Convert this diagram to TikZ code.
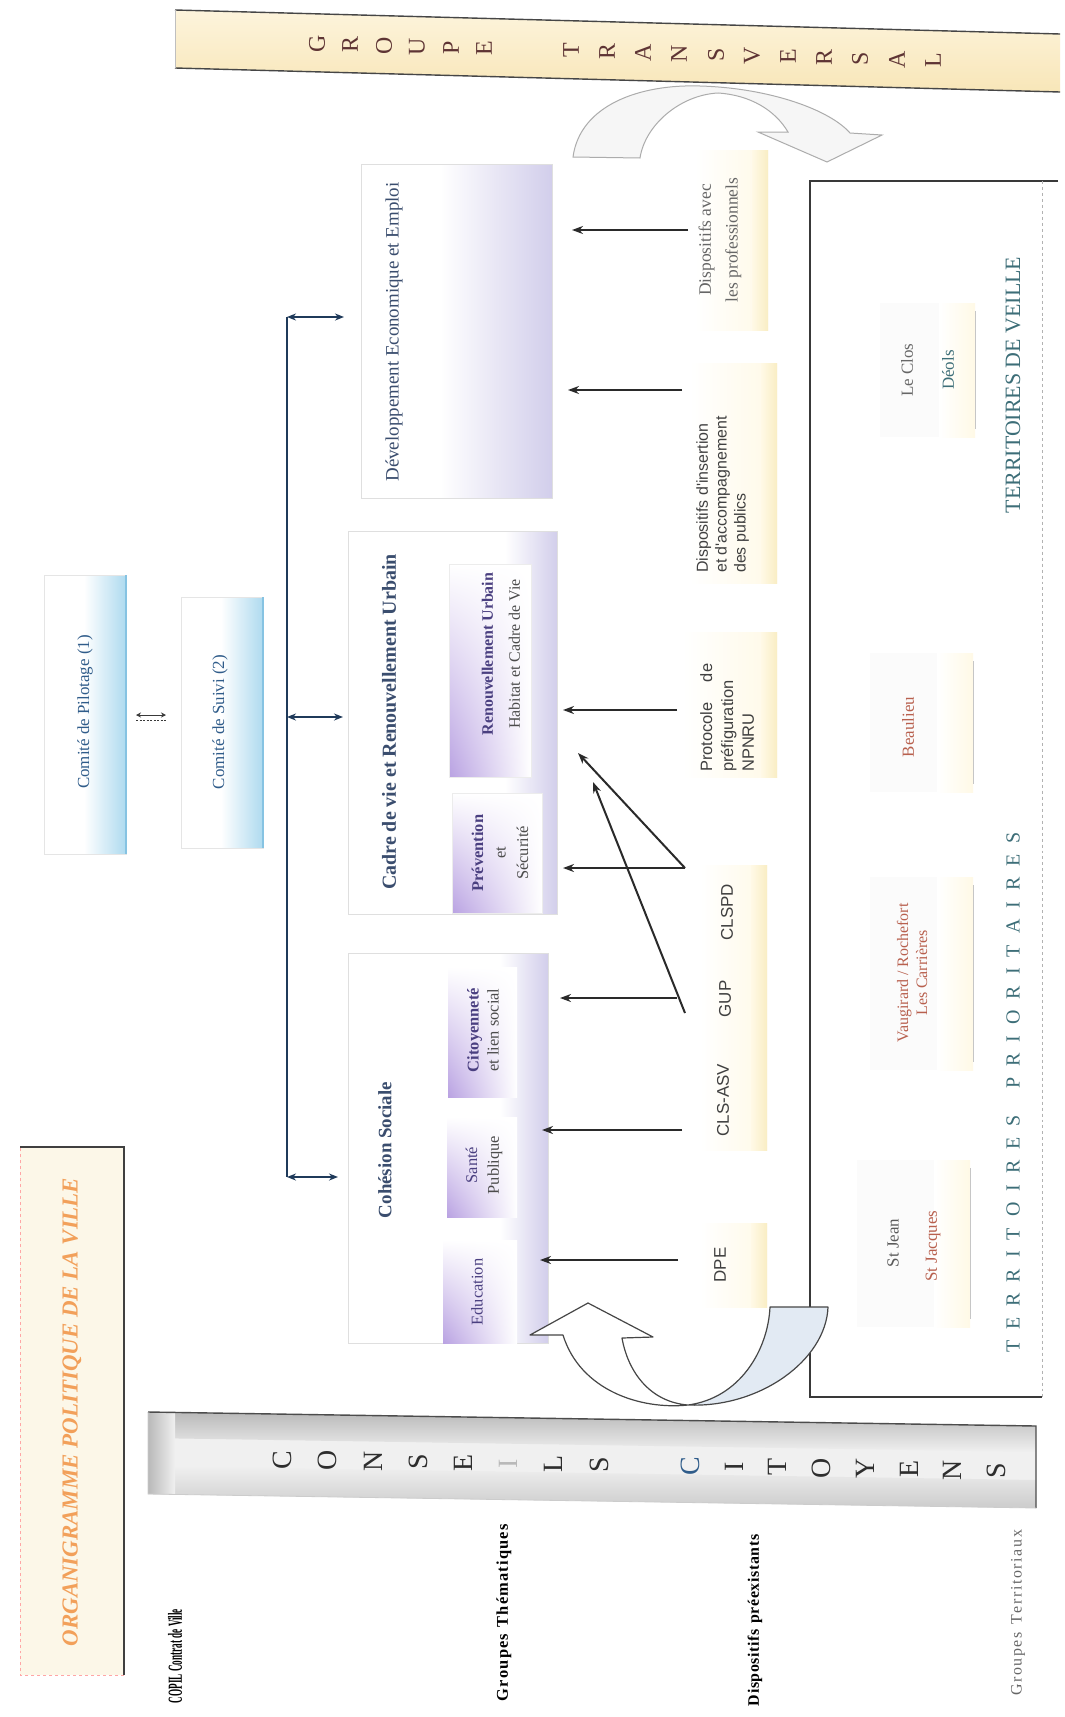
\documentclass[tikz,border=0pt]{standalone}
\usepackage{fontspec}
\usepackage{graphicx}
\setmainfont{Liberation Serif}
\newfontfamily\sansf{Liberation Sans}
\usetikzlibrary{arrows.meta,shadings}
\definecolor{navy}{HTML}{1F3A5A}
\definecolor{titleor}{HTML}{F2A05A}
\definecolor{cream}{HTML}{FCF7E8}
\definecolor{dcream}{HTML}{FFF9E6}
\definecolor{dstrip}{HTML}{F9EDC4}
\definecolor{lav}{HTML}{D2CEEB}
\definecolor{purp}{HTML}{B9A2E2}
\definecolor{purptext}{HTML}{4A3F80}
\definecolor{slate}{HTML}{3A4D6E}
\definecolor{tealc}{HTML}{3D6E78}
\definecolor{blu}{HTML}{AEDAEF}
\definecolor{bluedge}{HTML}{86C3E2}
\definecolor{bluetext}{HTML}{2F5C8A}
\definecolor{redt}{HTML}{B8604E}
\definecolor{gbar}{HTML}{F8E6B8}
\definecolor{gbarl}{HTML}{FDF4DC}
\definecolor{arr}{HTML}{2A2A2A}
\definecolor{ushade}{HTML}{E2EAF3}
\definecolor{gletc}{HTML}{5E3434}
\newcommand\fsz[2]{\fontsize{#1}{#2}\selectfont}
\newlength\spk
\newcommand\spc[2]{\setlength\spk{#1}\spcaux#2\relax}
\def\spcaux#1{\ifx#1\relax\else#1\kern\spk\expandafter\spcaux\fi}
\begin{document}
\begin{tikzpicture}[x=1bp,y=-1bp,
  lbl/.style={rotate=90,inner sep=0pt,align=center},
  darr/.style={draw=arr,line width=2.4bp,-{Stealth[length=11bp,width=8bp]}},
  dbl/.style={draw=navy,line width=1.8bp,{Stealth[length=9bp,width=7bp]}-{Stealth[length=9bp,width=7bp]}},
  pane/.style={draw=gray!25,line width=0.8bp},
  cletter/.style={rotate=90,inner sep=0pt,font=\fsz{28}{30}},
  gletter/.style={rotate=90,inner sep=0pt,font=\fsz{24}{26},text=gletc},
  disp/.style={lbl,font=\sansf\fsz{17}{20},text=black!75},
  terr/.style={lbl,font=\fsz{17}{19}},
  sub/.style={lbl,font=\fsz{16.5}{21},text=black!70},
  purpshade/.style={upper left=white,upper right=white,lower left=purp,lower right=white},
]
\useasboundingbox (0,0) rectangle (1064,1717);
\fill[white] (0,0) rectangle (1064,1717);

% ---------- Title box
\fill[cream] (20,1147) rectangle (124,1675);
\draw[red!35,dashed,line width=0.6bp] (124,1675) -- (20,1675) -- (20,1147);
\draw[gray!50!black,line width=1.6bp] (20,1147) -- (124,1147) -- (124,1675);
\node[lbl,text=titleor,font=\fsz{23}{26}\bfseries\itshape] (title) at (72,1412) {ORGANIGRAMME POLITIQUE DE LA VILLE};

% ---------- Row labels
\node[lbl,font=\fsz{20}{22}\bfseries] (copil) at (175,1656) {\scalebox{0.46}[1]{COPIL Contrat de Ville}};
\node[lbl,font=\fsz{16.5}{18}\bfseries] (gth) at (504,1612) {\spc{1.2bp}{Groupes}\hspace{5bp}\spc{1.2bp}{Thématiques}};
\node[lbl,font=\fsz{16}{18}\bfseries] (dpx) at (755,1620) {\spc{0.6bp}{Dispositifs}\hspace{5bp}\spc{0.6bp}{préexistants}};
\node[lbl,font=\fsz{16}{18},text=black!60] (gte) at (1018,1612) {\spc{1.6bp}{Groupes}\hspace{6bp}\spc{1.6bp}{Territoriaux}};

% ---------- Conseils citoyens bar
\fill[gray!12] (148,1412) -- (1036,1426) -- (1036,1508) -- (148,1494) -- cycle;
\shade[top color=gray!55,bottom color=gray!12] (148,1412) -- (1036,1426) -- (1036,1452) -- (148,1438) -- cycle;
\shade[top color=gray!12,bottom color=gray!40] (148,1466) -- (1036,1480) -- (1036,1508) -- (148,1494) -- cycle;
\shade[left color=gray!55,right color=gray!12] (148,1412) -- (175,1412.5) -- (175,1494.5) -- (148,1494) -- cycle;
\draw[gray!60!black,line width=1.4bp] (148,1412) -- (1036,1426) -- (1036,1508);
\draw[gray!40,line width=0.8bp] (148,1412) -- (148,1494) -- (1036,1508);
\foreach \l/\x in {C/282,O/327,N/373,S/418,E/463,L/553,S/599,I/734,T/777,O/821,Y/865,E/909,N/952,S/996}
  \node[cletter,text=black!82] (cs\x) at (\x,{1458+0.015*(\x-148)}) {\l};
\node[cletter,text=gray!55] (cs508) at (508,{1458+0.015*(508-148)}) {I};
\node[cletter,text=bluetext] (cs690) at (690,{1458+0.015*(690-148)}) {C};

% ---------- Groupe transversal bar
\shade[top color=gbarl,bottom color=gbar] (175,10) -- (1060,34) -- (1060,92) -- (175,68) -- cycle;
\draw[gray!55!black,line width=1.4bp] (175,10) -- (1060,34);
\draw[gray!55!black,line width=1.4bp] (175,68) -- (1060,92);
\draw[gray!50,line width=0.8bp] (175,10) -- (175,68);
\foreach \l/\x in {G/317,R/350,O/384,U/417,P/451,E/484,T/571,R/607,A/643,N/679,S/716,V/752,E/788,R/824,S/860,A/897,L/933}
  \node[gletter] (g\x) at (\x,{40+0.027*(\x-175)}) {\l};

% ---------- Comites
\fill[white] (44,575) rectangle (126,854);
\shade[left color=white,right color=blu] (84,575) rectangle (126,854);
\draw[gray!20] (44,575) rectangle (126,854);
\draw[bluedge,line width=1.6bp] (126,575) -- (126,854);
\node[lbl,text=bluetext,font=\fsz{17}{20}] (pil) at (85,712) {Comité de Pilotage (1)};
\fill[white] (181,597) rectangle (263,848);
\shade[left color=white,right color=blu] (221,597) rectangle (263,848);
\draw[gray!20] (181,597) rectangle (263,848);
\draw[bluedge,line width=1.6bp] (263,597) -- (263,848);
\node[lbl,text=bluetext,font=\fsz{17}{20}] (sui) at (220,722) {Comité de Suivi (2)};
\coordinate (pilR) at (136,715);
\coordinate (suiL) at (166,715);
\coordinate (pilR2) at (136,720);
\coordinate (suiL2) at (166,720);
\draw[gray!45!black,line width=0.9bp,{Stealth[length=5bp,width=5bp]}-{Stealth[length=5bp,width=5bp]}] (pilR) -- (suiL);
\draw[gray!45!black,line width=0.9bp,dash pattern=on 2bp off 1.5bp] (pilR2) -- (suiL2);

% ---------- Bracket
\coordinate (bt) at (287,317);
\coordinate (bm) at (287,717);
\coordinate (bb) at (287,1177);
\coordinate (devL) at (344,317);
\coordinate (cadL) at (343,717);
\coordinate (cohL) at (338,1177);
\draw[navy,line width=1.6bp] (bt) -- (bb);
\draw[dbl] (bt) -- (devL);
\draw[dbl] (bm) -- (cadL);
\draw[dbl] (bb) -- (cohL);

% ---------- Theme boxes
% Developpement
\fill[white] (361,164) rectangle (552,498);
\shade[left color=white,right color=lav] (440,164) rectangle (552,498);
\draw[pane] (361,164) rectangle (552,498);
\node[lbl,text=slate,font=\fsz{19}{22}] (dev) at (394,332) {Développement Economique et Emploi};
% Cadre de vie
\fill[white] (348,531) rectangle (557,914);
\shade[left color=white,right color=lav] (505,531) rectangle (557,914);
\draw[pane] (348,531) rectangle (557,914);
\node[lbl,text=slate,font=\fsz{20}{22}\bfseries] (cad) at (389,722) {Cadre de vie et Renouvellement Urbain};
\shade[purpshade] (449,564) rectangle (531,777);
\draw[gray!15] (449,564) rectangle (531,777);
\node[sub,font=\fsz{16}{27}] (ru) at (501,654) {\textcolor{purptext}{\bfseries Renouvellement Urbain}\\Habitat et Cadre de Vie};
\shade[purpshade] (452,793) rectangle (542,913);
\draw[gray!15] (452,793) rectangle (542,913);
\node[sub,font=\fsz{16.5}{22.5}] (prev) at (500,853) {\textcolor{purptext}{\bfseries Prévention}\\et\\Sécurité};
% Cohesion sociale
\fill[white] (348,953) rectangle (548,1343);
\shade[left color=white,right color=lav] (500,953) rectangle (548,1343);
\draw[pane] (348,953) rectangle (548,1343);
\node[lbl,text=slate,font=\fsz{19}{22}\bfseries] (coh) at (385,1150) {Cohésion Sociale};
\shade[purpshade] (448,967) rectangle (517,1097);
\node[sub,font=\fsz{16.5}{20}] (cit) at (483,1030) {\textcolor{purptext}{\bfseries Citoyenneté}\\et lien social};
\shade[purpshade] (447,1117) rectangle (517,1217);
\node[sub,font=\fsz{16.5}{22}] (san) at (484,1165) {\textcolor{purptext}{Santé}\\Publique};
\shade[purpshade] (443,1240) rectangle (517,1343);
\node[sub,text=purptext] (edu) at (477,1292) {Education};

% ---------- Dispositifs boxes
\foreach \xa/\ya/\xb/\yb in {695/150/768/330, 690/363/777/583, 683/632/777/777, 700/865/767/1150, 700/1223/767/1307}{
  \shade[left color=white,right color=dcream] (\xa,\ya) rectangle (\xb,\yb);
  \shade[left color=dcream,right color=dstrip] ({\xb-16},\ya) rectangle (\xb,\yb);
}
\node[disp,font=\fsz{17.5}{27},text=black!60] (dpro) at (720,240) {Dispositifs avec\\les professionnels};
\node[disp,anchor=north west,align=left,font=\sansf\fsz{16}{19}] (dins) at (696,573) {Dispositifs d'insertion\\et d'accompagnement\\des publics};
\node[disp,anchor=north west,align=left,text width=108bp,font=\sansf\fsz{16.5}{21}] (dprot) at (700,772) {Protocole\hfill de\\préfiguration\\NPNRU};
\node[disp] (clspd) at (727,912) {CLSPD};
\node[disp] (gup) at (725,999) {GUP};
\node[disp] (clsasv) at (723,1100) {CLS-ASV};
\node[disp] (dpe) at (720,1265) {DPE};

% ---------- Arrows from dispositifs
\coordinate (s1) at (688,230);  \coordinate (e1) at (572,230);
\coordinate (s2) at (682,390);  \coordinate (e2) at (568,390);
\coordinate (s3) at (677,710);  \coordinate (e3) at (563,710);
\coordinate (tv) at (685,868);  \coordinate (e4) at (563,868);
\coordinate (e5) at (578,753);
\coordinate (s6) at (685,1013); \coordinate (e6) at (593,782);
\coordinate (s7) at (677,998);  \coordinate (e7) at (560,998);
\coordinate (s8) at (682,1130); \coordinate (e8) at (542,1130);
\coordinate (s9) at (678,1260); \coordinate (e9) at (540,1260);
\draw[darr] (s1) -- (e1);
\draw[darr] (s2) -- (e2);
\draw[darr] (s3) -- (e3);
\draw[darr] (tv) -- (e4);
\draw[darr,line width=2bp] (tv) -- (e5);
\draw[darr,line width=2bp] (s6) -- (e6);
\draw[darr] (s7) -- (e7);
\draw[darr] (s8) -- (e8);
\draw[darr] (s9) -- (e9);

% ---------- Territoires
\fill[white] (810,181) rectangle (1042,1397);
\draw[gray!45!black,line width=1.5bp] (1058,181) -- (810,181) -- (810,1397) -- (1042,1397);
\draw[gray!60,dashed,line width=0.8bp] (1042,181) -- (1042,1397);
\foreach \xa/\ya/\xb/\yb in {880/303/975/437, 870/653/973/792, 870/877/973/1070, 857/1160/970/1327}{
  \fill[gray!3] (\xa,\ya) rectangle (\xb,\yb);
  \shade[left color=white,right color=dcream] ({\xb-36},\ya) rectangle (\xb,\yb);
  \draw[gray!45,line width=1bp] (\xb,{\ya+8}) -- (\xb,{\yb-8});
}
\node[terr,text=black!60] (clos) at (907,370) {Le Clos};
\node[terr,text=tealc] (deols) at (948,370) {Déols};
\node[terr,text=redt] (beau) at (908,727) {Beaulieu};
\node[terr,text=redt,font=\fsz{16}{19}] (vaug) at (912,973) {Vaugirard / Rochefort\\Les Carrières};
\node[terr,text=black!65] (sjean) at (893,1243) {St Jean};
\node[terr,text=redt] (sjacq) at (933,1246) {St Jacques};
\node[lbl,text=tealc,font=\fsz{22}{24}] (tveille) at (1013,385) {TERRITOIRES DE VEILLE};
\node[lbl,text=tealc,font=\fsz{20}{22}] (tprio) at (1013,1087) {\spc{11bp}{TERRITOIRES}\hspace{16bp}\spc{11bp}{PRIORITAIRES}};

% ---------- Top curved arrow (transversal)
\filldraw[fill=gray!7,draw=gray!65,line width=1bp]
  (573,157) .. controls (580,105) and (640,84) .. (700,86)
  .. controls (770,88) and (830,110) .. (850,133)
  -- (882,135) -- (827,162) -- (758,132) -- (788,132)
  .. controls (775,110) and (750,95) .. (718,93)
  .. controls (680,95) and (645,125) .. (640,158) -- cycle;

% ---------- Bottom U arrow
\fill[white]
  (770,1307) -- (828,1307) .. controls (826,1360) and (760,1408) .. (688,1405)
  .. controls (650,1402) and (628,1372) .. (622,1338)
  -- (653,1337) -- (588,1303) -- (530,1335) -- (563,1335)
  .. controls (580,1390) and (640,1410) .. (688,1405)
  .. controls (740,1398) and (768,1350) .. (770,1307) -- cycle;
\fill[ushade]
  (770,1307) -- (828,1307) .. controls (826,1360) and (760,1408) .. (688,1405)
  .. controls (740,1398) and (768,1350) .. (770,1307) -- cycle;
\draw[gray!55!black,line width=1.2bp,line join=round]
  (770,1307) -- (828,1307) .. controls (826,1360) and (760,1408) .. (688,1405)
  .. controls (650,1402) and (628,1372) .. (622,1338)
  -- (653,1337) -- (588,1303) -- (530,1335) -- (563,1335)
  .. controls (580,1390) and (640,1410) .. (688,1405)
  .. controls (740,1398) and (768,1350) .. (770,1307) -- cycle;
\end{tikzpicture}
\end{document}
